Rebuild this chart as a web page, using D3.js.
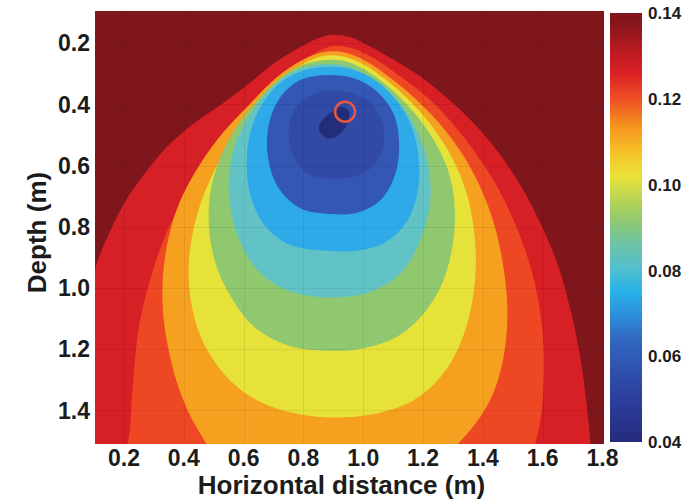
<!DOCTYPE html>
<html>
<head>
<meta charset="utf-8">
<script src="https://cdn.jsdelivr.net/npm/d3@7"></script>
<style>
  html, body { margin: 0; padding: 0; background: #fff; }
  svg { display: block; font-family: "Liberation Sans", Arial, Helvetica, sans-serif; font-weight: bold; }
</style>
</head>
<body>
<svg id="chart" width="686" height="502"></svg>
<script>
// Axis ticks
const xTicks = [0.2, 0.4, 0.6, 0.8, 1.0, 1.2, 1.4, 1.6, 1.8];
const yTicks = [0.2, 0.4, 0.6, 0.8, 1.0, 1.2, 1.4];
const cbTicks = [0.04, 0.06, 0.08, 0.10, 0.12, 0.14];

// Contour levels of soil water content (m3/m3); each outline encloses values below its level
const levels = [0.13, 0.12, 0.11, 0.10, 0.09, 0.08, 0.07, 0.06, 0.05, 0.045];

// Contour outlines as [horizontal distance (m), depth (m)]
const outline130 = [[0.033,1.671],[0.066,1.235],[0.100,0.952],[0.155,0.811],[0.211,0.707],[0.278,0.615],[0.345,0.538],[0.434,0.462],[0.523,0.402],[0.612,0.337],[0.701,0.266],[0.791,0.212],[0.858,0.181],[0.902,0.173],[0.958,0.181],[1.025,0.212],[1.103,0.255],[1.192,0.310],[1.281,0.380],[1.359,0.451],[1.437,0.538],[1.515,0.647],[1.582,0.767],[1.649,0.920],[1.693,1.072],[1.727,1.235],[1.749,1.399],[1.760,1.513],[1.771,1.671],[0.900,1.850]];
const outline120 = [[0.214,1.671],[0.221,1.453],[0.232,1.290],[0.250,1.127],[0.284,0.985],[0.328,0.854],[0.384,0.734],[0.451,0.625],[0.529,0.527],[0.607,0.440],[0.696,0.353],[0.780,0.277],[0.846,0.228],[0.902,0.209],[0.963,0.217],[1.041,0.253],[1.125,0.310],[1.214,0.377],[1.298,0.462],[1.376,0.560],[1.454,0.680],[1.521,0.822],[1.571,0.974],[1.599,1.138],[1.604,1.290],[1.594,1.421],[1.574,1.513],[1.537,1.639],[0.900,1.800]];
const outline110 = [[0.545,1.639],[0.477,1.513],[0.423,1.421],[0.378,1.312],[0.347,1.192],[0.330,1.072],[0.331,0.952],[0.350,0.832],[0.389,0.713],[0.456,0.593],[0.534,0.489],[0.618,0.402],[0.707,0.315],[0.796,0.255],[0.869,0.229],[0.930,0.229],[1.002,0.255],[1.092,0.315],[1.181,0.388],[1.264,0.473],[1.337,0.571],[1.398,0.685],[1.443,0.811],[1.470,0.941],[1.482,1.072],[1.473,1.203],[1.443,1.323],[1.392,1.421],[1.313,1.513],[1.225,1.595],[0.895,1.660]];
const outline100 = [[0.880,1.423],[0.746,1.404],[0.623,1.355],[0.523,1.268],[0.456,1.159],[0.423,1.039],[0.417,0.920],[0.434,0.800],[0.473,0.680],[0.534,0.560],[0.612,0.451],[0.701,0.353],[0.785,0.277],[0.858,0.244],[0.924,0.242],[0.991,0.264],[1.069,0.315],[1.153,0.386],[1.231,0.473],[1.298,0.576],[1.346,0.691],[1.370,0.811],[1.376,0.941],[1.359,1.072],[1.320,1.192],[1.259,1.290],[1.170,1.366],[1.036,1.412]];
const outline090 = [[0.880,1.205],[0.746,1.187],[0.635,1.127],[0.557,1.028],[0.506,0.920],[0.484,0.800],[0.490,0.680],[0.523,0.571],[0.579,0.468],[0.657,0.375],[0.735,0.304],[0.813,0.266],[0.880,0.255],[0.947,0.261],[1.025,0.299],[1.103,0.359],[1.181,0.440],[1.248,0.538],[1.290,0.636],[1.306,0.745],[1.298,0.865],[1.264,0.985],[1.203,1.083],[1.114,1.159],[1.002,1.197]];
const outline080 = [[0.880,1.031],[0.757,1.012],[0.657,0.952],[0.590,0.854],[0.557,0.745],[0.551,0.636],[0.573,0.527],[0.624,0.430],[0.690,0.348],[0.768,0.293],[0.846,0.271],[0.924,0.271],[1.002,0.299],[1.080,0.353],[1.147,0.430],[1.197,0.527],[1.223,0.636],[1.220,0.745],[1.186,0.854],[1.125,0.952],[1.014,1.016]];
const outline070 = [[0.869,0.878],[0.757,0.860],[0.674,0.800],[0.624,0.702],[0.610,0.593],[0.624,0.484],[0.668,0.391],[0.735,0.320],[0.813,0.286],[0.891,0.277],[0.969,0.288],[1.047,0.326],[1.114,0.391],[1.164,0.478],[1.186,0.582],[1.181,0.691],[1.142,0.789],[1.069,0.854],[0.980,0.878]];
const outline060 = [[0.891,0.758],[0.791,0.740],[0.718,0.675],[0.681,0.571],[0.685,0.462],[0.724,0.375],[0.791,0.320],[0.880,0.304],[0.969,0.315],[1.047,0.359],[1.103,0.435],[1.120,0.527],[1.108,0.625],[1.058,0.713],[0.980,0.754]];
const outline050 = [[0.902,0.642],[0.813,0.625],[0.763,0.560],[0.752,0.473],[0.785,0.397],[0.858,0.359],[0.947,0.359],[1.025,0.397],[1.067,0.473],[1.060,0.560],[1.002,0.625]];
const outline045 = [[0.880,0.511],[0.852,0.484],[0.863,0.451],[0.897,0.424],[0.930,0.408],[0.952,0.424],[0.947,0.462],[0.919,0.500]];

// Emitter position (m)
const emitterX = [0.939];
const emitterDepth = [0.424];

// Colour-bar gradient stops
const gradValues = [0.040, 0.048, 0.056, 0.064, 0.070, 0.075, 0.080, 0.086, 0.092, 0.098, 0.102, 0.108, 0.114, 0.120, 0.126, 0.132, 0.137, 0.140];

// ---------- styles ----------
const outlines = [outline130, outline120, outline110, outline100, outline090, outline080, outline070, outline060, outline050, outline045];
const backgroundColor = "#7e161b";
const bandColors = ["#d71f26", "#ee4724", "#f5a11f", "#e6e23a", "#8fc86f", "#62c3c7", "#2eaae9", "#3457b4", "#304aa6", "#242d7a"];
const gradColors = ["#262b7d", "#2b3a98", "#2f4fad", "#3068c0", "#2d92dc", "#27b0e8", "#4fbfd0", "#6cc4a8", "#93c96c", "#c4d84c", "#ebe238", "#f6bf28", "#f5901f", "#ee4f24", "#db2125", "#b31a20", "#8b161c", "#7e141a"];
const textColor = "#1c1c1c";

const svg = d3.select("#chart");

const x = d3.scaleLinear().domain([0.103, 1.805]).range([95, 604]);
const y = d3.scaleLinear().domain([0.095, 1.51]).range([11, 444]);
const cb = d3.scaleLinear().domain([0.04, 0.14]).range([442, 13]);

const defs = svg.append("defs");
defs.append("clipPath").attr("id", "plotClip")
  .append("rect")
  .attr("x", x.range()[0]).attr("y", y.range()[0])
  .attr("width", x.range()[1] - x.range()[0])
  .attr("height", y.range()[1] - y.range()[0]);

const plot = svg.append("g").attr("clip-path", "url(#plotClip)");

// background: wettest band
plot.append("rect")
  .attr("x", x.range()[0]).attr("y", y.range()[0])
  .attr("width", x.range()[1] - x.range()[0])
  .attr("height", y.range()[1] - y.range()[0])
  .attr("fill", backgroundColor);

const contourLine = d3.line()
  .x(d => x(d[0]))
  .y(d => y(d[1]))
  .curve(d3.curveCatmullRomClosed.alpha(0.5));

plot.selectAll("path.band")
  .data(levels.map((lv, i) => ({ level: lv, pts: outlines[i], color: bandColors[i] })))
  .join("path")
  .attr("class", "band")
  .attr("d", d => contourLine(d.pts))
  .attr("fill", d => d.color);

// faint grid
const grid = plot.append("g").attr("stroke", "#000").attr("stroke-opacity", 0.07).attr("stroke-width", 1);
grid.selectAll("line.gx").data(xTicks).join("line")
  .attr("x1", d => Math.round(x(d)) + 0.5).attr("x2", d => Math.round(x(d)) + 0.5)
  .attr("y1", y.range()[0]).attr("y2", y.range()[1]);
grid.selectAll("line.gy").data(yTicks).join("line")
  .attr("y1", d => Math.round(y(d)) + 0.5).attr("y2", d => Math.round(y(d)) + 0.5)
  .attr("x1", x.range()[0]).attr("x2", x.range()[1]);

// emitter marker
plot.selectAll("circle.emitter")
  .data(emitterX.map((v, i) => [v, emitterDepth[i]]))
  .join("circle")
  .attr("class", "emitter")
  .attr("cx", d => x(d[0])).attr("cy", d => y(d[1]))
  .attr("r", 10)
  .attr("fill", "none")
  .attr("stroke", "#e4583f")
  .attr("stroke-width", 2.5);

// x axis labels
svg.append("g").selectAll("text").data(xTicks).join("text")
  .attr("x", d => x(d)).attr("y", 466)
  .attr("text-anchor", "middle")
  .attr("font-size", 23).attr("fill", textColor)
  .text(d => d.toFixed(1));

svg.append("text")
  .attr("x", (x.range()[0] + x.range()[1]) / 2 - 8).attr("y", 494)
  .attr("text-anchor", "middle")
  .attr("font-size", 26).attr("fill", textColor)
  .text("Horizontal distance (m)");

// y axis labels
svg.append("g").selectAll("text").data(yTicks).join("text")
  .attr("x", 90).attr("y", d => y(d))
  .attr("dy", "0.36em")
  .attr("text-anchor", "end")
  .attr("font-size", 23).attr("fill", textColor)
  .text(d => d.toFixed(1));

svg.append("text")
  .attr("transform", `translate(46,${(y.range()[0] + y.range()[1]) / 2 + 5}) rotate(-90)`)
  .attr("text-anchor", "middle")
  .attr("font-size", 26).attr("fill", textColor)
  .text("Depth (m)");

// colour bar
const grad = defs.append("linearGradient").attr("id", "cbGrad")
  .attr("gradientUnits", "userSpaceOnUse")
  .attr("x1", 0).attr("x2", 0)
  .attr("y1", cb(0.04)).attr("y2", cb(0.14));
grad.selectAll("stop").data(gradValues).join("stop")
  .attr("offset", d => (d - 0.04) / 0.10)
  .attr("stop-color", (d, i) => gradColors[i]);

svg.append("rect")
  .attr("x", 610).attr("y", cb(0.14))
  .attr("width", 32).attr("height", cb(0.04) - cb(0.14))
  .attr("fill", "url(#cbGrad)");

svg.append("g").selectAll("text").data(cbTicks).join("text")
  .attr("x", 648).attr("y", d => cb(d))
  .attr("dy", "0.36em")
  .attr("font-size", 17).attr("fill", textColor)
  .text(d => d.toFixed(2));
</script>
</body>
</html>
